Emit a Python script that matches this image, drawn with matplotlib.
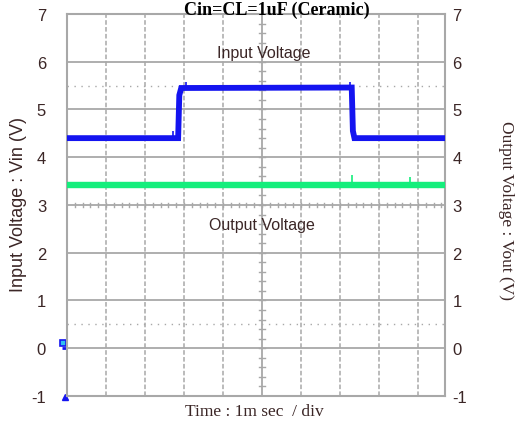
import matplotlib
matplotlib.use("Agg")
from matplotlib import pyplot as plt
import numpy as np

plt.rcParams["axes.unicode_minus"] = False

# time axis in scope divisions (1 ms / div), screen cut at ~9.7 div
x_max = 9.69

# input voltage trace (blue)
vin_t = [0, 2.85, 2.88, 2.93, 7.30, 7.33, 7.37, 9.69]
vin_v = [4.40, 4.40, 5.30, 5.45, 5.46, 4.55, 4.40, 4.40]

# output voltage trace (green)
vout_t = [0, 9.69]
vout_v = [3.42, 3.42]

# short noise spikes on the traces (position, base, top)
vin_spike_t = [2.72, 3.05, 7.25]
vin_spike_lo = [4.40, 5.45, 5.46]
vin_spike_hi = [4.55, 5.58, 5.58]
vout_spike_t = [7.31, 8.79]
vout_spike_lo = [3.42, 3.42]
vout_spike_hi = [3.62, 3.58]

y_ticks = [-1, 0, 1, 2, 3, 4, 5, 6, 7]
cursor_levels = [5.5, 0.5]
ground_level = 0
trigger_pos = 0

txt = "#3b2626"
grid = "#a8a8a8"
blue = "#1414f0"
green = "#14ee7c"

fig = plt.figure(figsize=(5.15, 4.27), dpi=100)
ax = fig.add_axes([0.130, 0.0703, 0.734, 0.8946])

ax.set_xlim(0, x_max)
ax.set_ylim(-1, 7)

# grid: solid horizontals, dashed verticals, solid centre cross
for y in y_ticks:
    ax.axhline(y, color=grid, lw=1.3, zorder=1)
for xg in range(1, 10):
    if xg == 5:
        ax.axvline(xg, color=grid, lw=1.3, zorder=1)
    else:
        ax.axvline(xg, color=grid, lw=1.1, ls=(0, (3, 1.5)), zorder=1)
for c in cursor_levels:
    ax.axhline(c, color=grid, lw=1.0, ls=(0, (1, 4)), zorder=1)

# minor ticks along the centre lines
for xm in np.arange(0.2, x_max, 0.2):
    ax.plot([xm, xm], [2.95, 3.05], color=grid, lw=1.0, zorder=1)
for ym in np.arange(-0.8, 7, 0.2):
    ax.plot([4.93, 5.07], [ym, ym], color=grid, lw=1.0, zorder=1)

ax.plot(vout_t, vout_v, color=green, lw=4.6, zorder=3)
ax.vlines(vout_spike_t, vout_spike_lo, vout_spike_hi, color=green, lw=1.2, zorder=3)
ax.plot(vin_t, vin_v, color=blue, lw=4.2, solid_joinstyle="miter", zorder=4)
ax.vlines(vin_spike_t, vin_spike_lo, vin_spike_hi, color=blue, lw=1.2, zorder=4)

# channel ground marker and trigger marker
ax.plot([-0.11], [ground_level + 0.12], marker="s", ms=4, mfc="#30c0f0", mec=blue, mew=1.2, clip_on=False)
ax.plot([-0.13, -0.02], [ground_level, ground_level], color=blue, lw=2, clip_on=False, solid_capstyle="butt")
ax.plot([trigger_pos - 0.04], [-1.03], marker="^", ms=4, color=blue, clip_on=False)

for s in ax.spines.values():
    s.set_color(grid)
    s.set_linewidth(1.5)

ax.set_xticks([])
ax.set_yticks(y_ticks)
ax.tick_params(axis="y", length=0, labelsize=12, labelcolor=txt,
               labelleft=True, labelright=True)
for t in ax.yaxis.get_major_ticks():
    t.label1.set_fontfamily("Liberation Sans")
    t.label2.set_fontfamily("Liberation Sans")
    t.set_pad(15)
    t.label2.set_x(1.02)
    t.label2.set_transform(ax.get_yaxis_transform())
    t.label2.set_horizontalalignment("left")

fig.text(0.036, 0.522, "Input Voltage : Vin (V)", rotation=90, ha="center", va="center",
         fontsize=13, color=txt, family="Liberation Sans")
fig.text(0.982, 0.508, "Output Voltage : Vout (V)", rotation=270, ha="center", va="center",
         fontsize=12.5, color=txt, family="Liberation Serif")

ax.text(5.05, 6.2, "Input Voltage", ha="center", va="center", fontsize=11.5, color=txt,
        family="Liberation Sans")
ax.text(5.0, 2.6, "Output Voltage", ha="center", va="center", fontsize=11.5, color=txt,
        family="Liberation Sans")

fig.text(0.537, 0.966, "Cin=CL=1uF (Ceramic)", ha="center", va="baseline", fontsize=13,
         fontweight="bold", color="black", family="Liberation Serif")
fig.text(0.493, 0.035, "Time : 1m sec  / div", ha="center", va="center", fontsize=12.5,
         color=txt, family="Liberation Serif")

fig.savefig("out.png", dpi=100)
